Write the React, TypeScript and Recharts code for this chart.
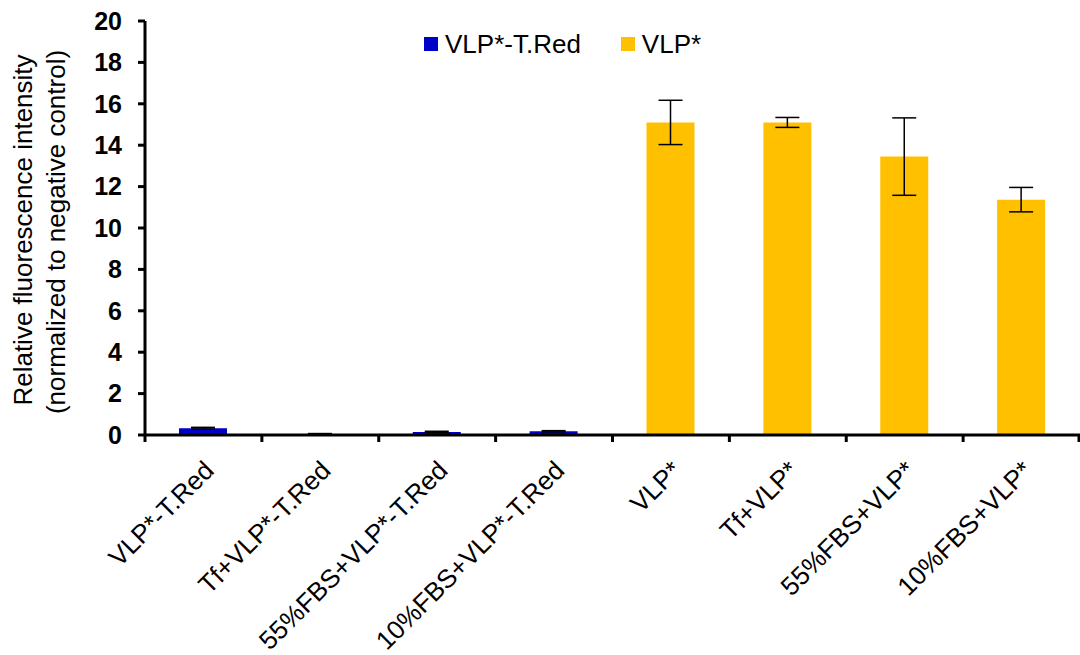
import { BarChart, Bar, XAxis, YAxis, ErrorBar } from 'recharts';

const categories = [
  'VLP*-T.Red',
  'Tf+VLP*-T.Red',
  '55%FBS+VLP*-T.Red',
  '10%FBS+VLP*-T.Red',
  'VLP*',
  'Tf+VLP*',
  '55%FBS+VLP*',
  '10%FBS+VLP*',
];
const redValues = [0.33, 0.05, 0.15, 0.18, null, null, null, null];
const redErrors = [0.04, 0.02, 0.03, 0.03, null, null, null, null];
const vlpValues = [null, null, null, null, 15.1, 15.1, 13.45, 11.37];
const vlpErrors = [null, null, null, null, 1.07, 0.24, 1.87, 0.59];
const yTicks = [0, 2, 4, 6, 8, 10, 12, 14, 16, 18, 20];
const legendItems = [
  { name: 'VLP*-T.Red', color: '#0000C8' },
  { name: 'VLP*', color: '#FFC000' },
];

const BLUE = '#0000C8';
const YELLOW = '#FFC000';
const FONT = '"Liberation Sans", Arial, sans-serif';

const data = categories.map((name, i) => ({
  name,
  red: redValues[i],
  redErr: redErrors[i],
  vlp: vlpValues[i],
  vlpErr: vlpErrors[i],
}));

const CHART_W = 1080;
const CHART_H = 655;
const PLOT_LEFT = 145;
const BAND = (CHART_W - PLOT_LEFT) / categories.length;

const XTick = (props: any) => {
  const { x, y, payload, index } = props;
  const ax = x + 12;
  const ay = y + 37;
  return (
    <g>
      <line x1={x - BAND / 2} y1={y} x2={x - BAND / 2} y2={y + 7} stroke="#000" strokeWidth={3} />
      {index === categories.length - 1 && (
        <line x1={x + BAND / 2 - 1} y1={y} x2={x + BAND / 2 - 1} y2={y + 7} stroke="#000" strokeWidth={3} />
      )}
      <text
        x={ax}
        y={ay}
        textAnchor="end"
        transform={`rotate(-45, ${ax}, ${ay})`}
        fontSize={26}
        fontFamily={FONT}
        fill="#000"
      >
        {payload.value}
      </text>
    </g>
  );
};

const YLabel = () => (
  <g fontFamily={FONT} fontSize={26} fill="#000">
    <text x={32} y={230} textAnchor="middle" transform="rotate(-90, 32, 230)">
      Relative fluorescence intensity
    </text>
    <text x={65} y={232} textAnchor="middle" transform="rotate(-90, 65, 232)">
      (normalized to negative control)
    </text>
  </g>
);

export default function App() {
  return (
    <div style={{ position: 'absolute', left: 0, top: 0, width: CHART_W, height: CHART_H, background: '#fff' }}>
      <BarChart
        width={CHART_W}
        height={CHART_H}
        data={data}
        margin={{ top: 21, right: 0, bottom: 0, left: 80 }}
      >
        <XAxis
          dataKey="name"
          interval={0}
          height={220}
          axisLine={{ stroke: '#000', strokeWidth: 3 }}
          tickLine={false}
          tickSize={0}
          tickMargin={0}
          tick={<XTick />}
        />
        <YAxis
          width={65}
          domain={[0, 20]}
          ticks={yTicks}
          interval={0}
          axisLine={{ stroke: '#000', strokeWidth: 3 }}
          tickLine={{ stroke: '#000', strokeWidth: 3 }}
          tickSize={7}
          tickMargin={16}
          tick={{ fontSize: 25, fontWeight: 'bold', fill: '#000', fontFamily: FONT }}
          label={<YLabel />}
        />
        <Bar dataKey="red" stackId="a" fill={BLUE} barSize={48} isAnimationActive={false}>
          <ErrorBar dataKey="redErr" width={12} stroke="#000" strokeWidth={1.5} isAnimationActive={false} />
        </Bar>
        <Bar dataKey="vlp" stackId="a" fill={YELLOW} barSize={48} isAnimationActive={false}>
          <ErrorBar dataKey="vlpErr" width={12} stroke="#000" strokeWidth={1.5} isAnimationActive={false} />
        </Bar>
      </BarChart>
      <div
        style={{
          position: 'absolute',
          top: 29,
          left: 424,
          display: 'flex',
          alignItems: 'center',
          fontFamily: FONT,
          fontSize: 26,
          lineHeight: '30px',
        }}
      >
        {legendItems.map((item, i) => (
          <div key={item.name} style={{ display: 'flex', alignItems: 'center', marginRight: i === 0 ? 40 : 0 }}>
            <span style={{ display: 'inline-block', width: 14, height: 14, background: item.color, marginRight: 7 }} />
            <span>{item.name}</span>
          </div>
        ))}
      </div>
    </div>
  );
}
